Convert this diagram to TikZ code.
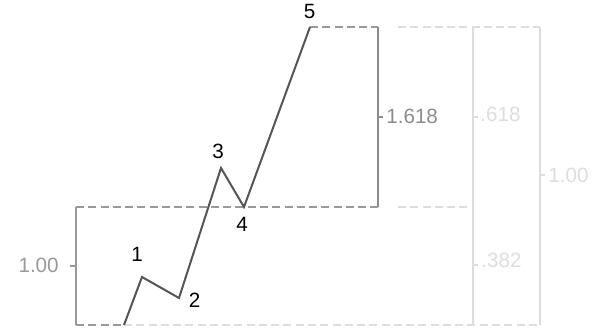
\documentclass[tikz,border=0pt]{standalone}
\usepackage{fontspec}
\setmainfont{Liberation Sans}
\definecolor{wave}{HTML}{555555}
\definecolor{midg}{HTML}{999999}
\definecolor{darkg}{HTML}{8C8C8C}
\definecolor{lightg}{HTML}{DDDDDD}
\tikzset{
  wavel/.style={draw=wave, line width=1.5pt, line join=miter},
  dashdark/.style={draw=midg, line width=1.5pt, dash pattern=on 6pt off 3.2pt},
  dashlight/.style={draw=lightg, line width=1.5pt, dash pattern=on 6pt off 3.2pt},
  brk/.style={line width=1.5pt},
  numlbl/.style={inner sep=0pt, font=\fontsize{15.5}{18}\selectfont, text=black},
  vallbl/.style={inner sep=0pt, font=\fontsize{15.5}{18}\selectfont},
}
\begin{document}
\begin{tikzpicture}[x=0.75pt, y=-0.75pt]
\useasboundingbox (0,0) rectangle (595,331);
% wave points
\coordinate (w0) at (124,325);
\coordinate (w1) at (142,277);
\coordinate (w2) at (179,298);
\coordinate (w3) at (221,168);
\coordinate (w4) at (244,207);
\coordinate (w5) at (310,27);
% bracket corners
\coordinate (a1) at (76,207);
\coordinate (a2) at (76,325);
\coordinate (b1) at (378,27);
\coordinate (b2) at (378,207);
\coordinate (c1) at (398,27);
\coordinate (c2) at (398,207);
\coordinate (d1) at (473,27);
\coordinate (d2) at (473,325);
\coordinate (d3) at (473,207);
\coordinate (e1) at (540,27);
\coordinate (e2) at (540,325);
% ticks
\coordinate (ta0) at (70,266);   \coordinate (ta1) at (76,266);
\coordinate (tb0) at (378,117);  \coordinate (tb1) at (383,117);
\coordinate (tc0) at (473,117);  \coordinate (tc1) at (478,117);
\coordinate (td0) at (473,265);  \coordinate (td1) at (478,265);
\coordinate (te0) at (540,175);  \coordinate (te1) at (545,175);

% light dashed lines
\draw[dashlight] (w0) -- (e2);
\draw[dashlight] (c2) -- (d3);
\draw[dashlight] (c1) -- (e1);
% dark dashed lines
\draw[dashdark] (a2) -- (w0);
\draw[dashdark] (a1) -- (b2);
\draw[dashdark] (w5) -- (b1);
% brackets
\draw[brk, draw=midg] (a1) -- (a2);
\draw[brk, draw=midg] (ta0) -- (ta1);
\draw[brk, draw=darkg] (b1) -- (b2);
\draw[brk, draw=darkg] (tb0) -- (tb1);
\draw[brk, draw=lightg] (d1) -- (d2);
\draw[brk, draw=lightg] (tc0) -- (tc1);
\draw[brk, draw=lightg] (td0) -- (td1);
\draw[brk, draw=lightg] (e1) -- (e2);
\draw[brk, draw=lightg] (te0) -- (te1);
% wave
\draw[wavel] (w0) -- (w1) -- (w2) -- (w3) -- (w4) -- (w5);
% labels
\node[numlbl] (n1) at (137,254) {1};
\node[numlbl] (n2) at (194.5,300) {2};
\node[numlbl] (n3) at (218,151.5) {3};
\node[numlbl] (n4) at (242,224) {4};
\node[numlbl] (n5) at (309.5,11.5) {5};
\node[vallbl, text=midg, anchor=east] (v1) at (59,265) {1.00};
\node[vallbl, text=darkg, anchor=west] (v2) at (386,116) {1.618};
\node[vallbl, text=lightg, anchor=west] (v3) at (480,114) {.618};
\node[vallbl, text=lightg, anchor=west] (v4) at (481,260) {.382};
\node[vallbl, text=lightg, anchor=west] (v5) at (548,175) {1.00};
\end{tikzpicture}
\end{document}
